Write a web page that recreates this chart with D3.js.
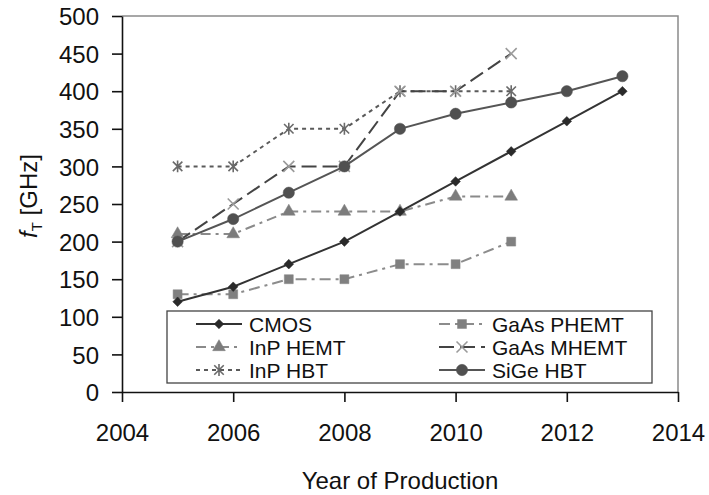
<!DOCTYPE html>
<html>
<head>
<meta charset="utf-8">
<script src="https://cdn.jsdelivr.net/npm/d3@7"></script>
<style>
    body { margin: 0; background: #fff; }
    text { font-family: "Liberation Sans", Arial, sans-serif; fill: #111; }
</style>
</head>
<body>
<svg id="chart" width="709" height="495"></svg>
<script>
const years = [2005, 2006, 2007, 2008, 2009, 2010, 2011, 2012, 2013];

const cmos = [120, 140, 170, 200, 240, 280, 320, 360, 400];
const sigeHbt = [200, 230, 265, 300, 350, 370, 385, 400, 420];
const inpHbt = [300, 300, 350, 350, 400, 400, 400];
const gaasMhemt = [200, 250, 300, 300, 400, 400, 450];
const inpHemt = [210, 210, 240, 240, 240, 260, 260];
const gaasPhemt = [130, 130, 150, 150, 170, 170, 200];

const xTicks = [2004, 2006, 2008, 2010, 2012, 2014];
const yTicks = [0, 50, 100, 150, 200, 250, 300, 350, 400, 450, 500];

const margin = { top: 16, left: 122, bottom: 103, right: 31 };
const width = 709;
const height = 495;
const chartWidth = width - margin.left - margin.right;
const chartHeight = height - margin.top - margin.bottom;

// asterisk marker: an X plus a vertical bar
const symbolStar = {
    draw(context, size) {
        const r = Math.sqrt(size) / 2;
        context.moveTo(-r, -r); context.lineTo(r, r);
        context.moveTo(-r, r); context.lineTo(r, -r);
        context.moveTo(0, -r * 1.25); context.lineTo(0, r * 1.25);
    }
};

const series = [
    { name: 'GaAs PHEMT', values: gaasPhemt, line: '#8c8c8c', dash: '11,5,3,5', marker: '#808080', symbol: d3.symbolSquare, size: 80, rotate: 0, stroked: false, col: 1, row: 0 },
    { name: 'InP HEMT', values: inpHemt, line: '#8a8a8a', dash: '10,5,3,5', marker: '#7c7c7c', symbol: d3.symbolTriangle, size: 70, rotate: 0, stroked: false, col: 0, row: 1 },
    { name: 'InP HBT', values: inpHbt, line: '#5a5a5a', dash: '4,4', marker: '#6a6a6a', symbol: symbolStar, size: 90, rotate: 0, stroked: true, col: 0, row: 2 },
    { name: 'GaAs MHEMT', values: gaasMhemt, line: '#444', dash: '15,6', marker: '#9a9a9a', symbol: d3.symbolX, size: 80, rotate: 0, stroked: true, col: 1, row: 1 },
    { name: 'SiGe HBT', values: sigeHbt, line: '#555', dash: null, marker: '#505050', symbol: d3.symbolCircle, size: 100, rotate: 0, stroked: false, col: 1, row: 2 },
    { name: 'CMOS', values: cmos, line: '#333', dash: null, marker: '#2a2a2a', symbol: d3.symbolSquare, size: 46, rotate: 45, stroked: false, col: 0, row: 0 }
];

const svg = d3.select('#chart');

const x = d3.scaleLinear().domain([2004, 2014]).range([0, chartWidth]);
const y = d3.scaleLinear().domain([0, 500]).range([chartHeight, 0]);

const g = svg.append('g')
    .attr('transform', `translate(${[margin.left, margin.top]})`);

// plot frame (top and right)
g.append('path')
    .attr('d', `M0,0H${chartWidth}V${chartHeight}`)
    .attr('fill', 'none')
    .attr('stroke', '#8a8a8a')
    .attr('stroke-width', 1.5);

const xAxe = d3.axisBottom(x).tickValues(xTicks).tickFormat(d3.format('d')).tickSizeInner(10).tickSizeOuter(0).tickPadding(22);
const yAxe = d3.axisLeft(y).tickValues(yTicks).tickSizeInner(10).tickSizeOuter(0).tickPadding(13);

const xG = g.append('g').attr('transform', `translate(0, ${chartHeight})`).call(xAxe);
const yG = g.append('g').call(yAxe);

[xG, yG].forEach(axis => {
    axis.selectAll('path, line').attr('stroke', '#111').attr('stroke-width', 1.6);
    axis.selectAll('text')
        .attr('font-size', 24)
        .attr('font-family', '"Liberation Sans", Arial, sans-serif')
        .attr('fill', '#111');
});
yG.selectAll('text').attr('dy', '0.36em');
xG.selectAll('text').attr('dy', '0.72em');

const line = d3.line()
    .x(d => x(d.year))
    .y(d => y(d.value));

function markerPath(s) {
    return d3.symbol().type(s.symbol).size(s.size)();
}

function drawMarker(sel, s) {
    sel.attr('d', markerPath(s))
        .attr('fill', s.stroked ? 'none' : s.marker)
        .attr('stroke', s.marker)
        .attr('stroke-width', s.stroked ? 1.6 : 0.5);
}

series.forEach(s => {
    const points = s.values.map((value, i) => ({ year: years[i], value }));

    g.append('path')
        .datum(points)
        .attr('fill', 'none')
        .attr('stroke', s.line)
        .attr('stroke-width', 2)
        .attr('stroke-dasharray', s.dash)
        .attr('d', line);

    g.selectAll(null)
        .data(points)
        .enter()
        .append('path')
        .attr('transform', d => `translate(${[x(d.year), y(d.value)]}) rotate(${s.rotate})`)
        .call(drawMarker, s);
});

// legend
const legendBox = { x: 167 - margin.left, y: 311 - margin.top, width: 485, height: 72 };
const legendG = g.append('g').attr('transform', `translate(${[legendBox.x, legendBox.y]})`);

legendG.append('rect')
    .attr('width', legendBox.width)
    .attr('height', legendBox.height)
    .attr('fill', '#fff')
    .attr('stroke', '#444')
    .attr('stroke-width', 1.3);

const colX = [29, 272];
const rowY = [13, 36, 59];

series.forEach(s => {
    const item = legendG.append('g')
        .attr('transform', `translate(${[colX[s.col], rowY[s.row]]})`);

    item.append('line')
        .attr('x1', 0).attr('x2', 46)
        .attr('stroke', s.line)
        .attr('stroke-width', 2)
        .attr('stroke-dasharray', s.dash);

    item.append('path')
        .attr('transform', `translate(23,0) rotate(${s.rotate})`)
        .call(drawMarker, s);

    item.append('text')
        .attr('x', 53)
        .attr('dy', '0.36em')
        .attr('font-size', 21)
        .text(s.name);
});

// axis titles
svg.append('text')
    .attr('x', margin.left + chartWidth / 2)
    .attr('y', 489)
    .attr('text-anchor', 'middle')
    .attr('font-size', 24)
    .text('Year of Production');

const yTitle = svg.append('text')
    .attr('transform', 'translate(37, 196) rotate(-90)')
    .attr('text-anchor', 'middle')
    .attr('font-size', 24);
yTitle.append('tspan').attr('font-style', 'italic').text('f');
yTitle.append('tspan').attr('font-size', 15).attr('dy', 5).text('T');
yTitle.append('tspan').attr('dy', -5).text(' [GHz]');
</script>
</body>
</html>
